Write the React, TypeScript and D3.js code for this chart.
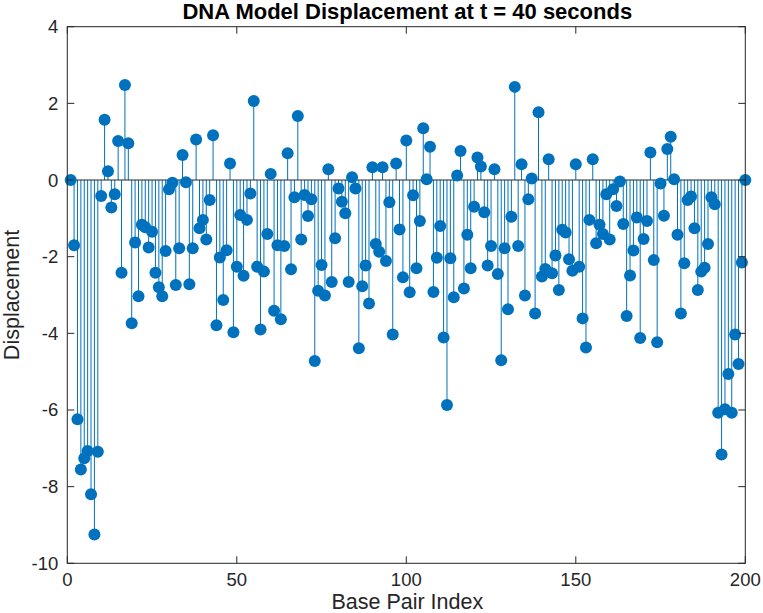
import React from "react";
import * as d3 from "d3";

const title = "DNA Model Displacement at t = 40 seconds";
const xLabel = "Base Pair Index";
const yLabel = "Displacement";
const xTicks = [0, 50, 100, 150, 200];
const yTicks = [-10, -8, -6, -4, -2, 0, 2, 4];

const displacement = [
  0, -1.70, -6.24, -7.55, -7.26, -7.07, -8.20, -9.25, -7.09, -0.42,
  1.57, 0.23, -0.72, -0.37, 1.02, -2.42, 2.48, 0.96, -3.74, -1.63,
  -3.03, -1.17, -1.23, -1.76, -1.35, -2.42, -2.80, -3.03, -1.85, -0.24,
  -0.07, -2.74, -1.78, 0.65, -0.06, -2.72, -1.78, 1.06, -1.26, -1.04,
  -1.55, -0.52, 1.17, -3.79, -2.02, -3.13, -1.83, 0.43, -3.97, -2.26,
  -0.91, -2.50, -1.04, -0.35, 2.06, -2.26, -3.90, -2.39, -1.41, 0.16,
  -3.41, -1.70, -3.63, -1.72, 0.70, -2.33, -0.45, 1.67, -1.55, -0.39,
  -0.94, -0.50, -4.72, -2.89, -2.22, -3.01, 0.28, -2.66, -1.52, -0.22,
  -0.57, -0.87, -2.66, 0.07, -0.22, -4.39, -2.77, -2.23, -3.22, 0.33,
  -1.67, -1.87, 0.33, -2.11, -0.58, -4.03, 0.43, -1.29, -2.54, 1.03,
  -2.93, -0.40, -2.30, -1.07, 1.35, 0.02, 0.87, -2.92, -2.03, -1.20,
  -4.11, -5.87, -2.04, -3.06, 0.12, 0.76, -2.83, -1.43, -2.30, -0.70,
  0.59, 0.35, -0.84, -2.23, -1.72, 0.28, -2.45, -4.70, -1.78, -3.37,
  -0.96, 2.43, -1.72, 0.41, -3.01, -0.50, 0.04, -3.48, 1.77, -2.52,
  -2.32, 0.54, -2.43, -1.97, -2.87, -1.30, -1.37, -2.07, -2.37, 0.41,
  -2.26, -3.61, -4.37, -1.04, 0.54, -1.65, -1.17, -1.41, -0.37, -1.55,
  -0.24, -0.68, -0.04, -1.15, -3.55, -2.49, -1.84, -0.98, -4.12, -1.54,
  -1.07, 0.72, -2.09, -4.23, -0.09, -0.93, 0.81, 1.13, 0.02, -1.43,
  -3.48, -2.17, -0.52, -0.43, -1.26, -2.87, -2.39, -2.29, -1.67, -0.45,
  -0.63, -6.07, -7.16, -5.98, -5.06, -6.07, -4.03, -4.80, -2.15, 0,
];

const W = 763;
const H = 613;
const left = 67.3;
const right = 745.3;
const top = 26.7;
const bottom = 563.3;
const blue = "#0072BD";
const axisColor = "#262626";
const font = "'Liberation Sans', Arial, Helvetica, sans-serif";

export default function App() {
  const x = d3.scaleLinear().domain([0, 200]).range([left, right]);
  const y = d3.scaleLinear().domain([-10, 4]).range([bottom, top]);
  const pts = displacement.map((v, i) => ({ i: i + 1, v }));
  const tl = 7;
  return (
    <svg
      width={W}
      height={H}
      style={{ position: "absolute", left: 0, top: 0, background: "#fff" }}
      fontFamily={font}
    >
      <rect x={0} y={0} width={W} height={H} fill="#fff" />
      {pts.map((p) => (
        <line
          key={"s" + p.i}
          x1={x(p.i)}
          x2={x(p.i)}
          y1={y(0)}
          y2={y(p.v)}
          stroke={blue}
          strokeWidth={1}
        />
      ))}
      <line x1={left} x2={right} y1={y(0)} y2={y(0)} stroke={axisColor} strokeWidth={1} />
      {pts.map((p) => (
        <circle key={"m" + p.i} cx={x(p.i)} cy={y(p.v)} r={6} fill={blue} />
      ))}
      <rect
        x={left}
        y={top}
        width={right - left}
        height={bottom - top}
        fill="none"
        stroke={axisColor}
        strokeWidth={1}
      />
      {xTicks.map((t) => (
        <g key={"xt" + t}>
          <line x1={x(t)} x2={x(t)} y1={bottom} y2={bottom - tl} stroke={axisColor} />
          <line x1={x(t)} x2={x(t)} y1={top} y2={top + tl} stroke={axisColor} />
          <text
            x={x(t)}
            y={bottom + 23}
            textAnchor="middle"
            fontSize={18.5}
            fill={axisColor}
          >
            {t}
          </text>
        </g>
      ))}
      {yTicks.map((t) => (
        <g key={"yt" + t}>
          <line x1={left} x2={left + tl} y1={y(t)} y2={y(t)} stroke={axisColor} />
          <line x1={right} x2={right - tl} y1={y(t)} y2={y(t)} stroke={axisColor} />
          <text
            x={left - 9}
            y={y(t) + 6.5}
            textAnchor="end"
            fontSize={18.5}
            fill={axisColor}
          >
            {t}
          </text>
        </g>
      ))}
      <text
        x={(left + right) / 2 + 1}
        y={19}
        textAnchor="middle"
        fontSize={22}
        fontWeight="bold"
        fill="#000"
      >
        {title}
      </text>
      <text
        x={(left + right) / 2 + 1}
        y={609}
        textAnchor="middle"
        fontSize={21.5}
        fill={axisColor}
      >
        {xLabel}
      </text>
      <text
        transform={`translate(19, ${(top + bottom) / 2}) rotate(-90)`}
        textAnchor="middle"
        fontSize={21.5}
        fill={axisColor}
      >
        {yLabel}
      </text>
    </svg>
  );
}
